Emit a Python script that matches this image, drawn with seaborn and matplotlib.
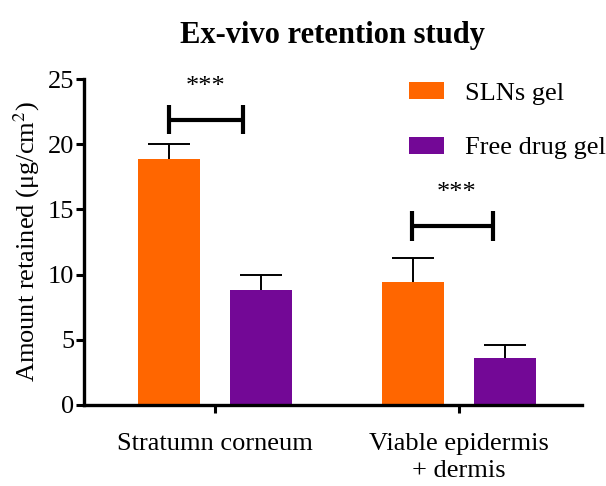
import matplotlib
matplotlib.use("Agg")
import matplotlib.pyplot as plt
import seaborn as sns
import pandas as pd

# Data
regions = ["Stratumn corneum", "Viable epidermis\n+ dermis"]
formulations = ["SLNs gel", "Free drug gel"]
sln_mean = [18.85, 9.4]
sln_err = [1.2, 1.9]
free_mean = [8.85, 3.6]
free_err = [1.1, 1.0]
colors = ["#FF6600", "#730896"]
sig_labels = ["***", "***"]

df = pd.DataFrame({
    "region": regions * 2,
    "formulation": [formulations[0]] * 2 + [formulations[1]] * 2,
    "amount": sln_mean + free_mean,
    "err": sln_err + free_err,
})

sns.set_theme(style="ticks")
plt.rcParams["font.family"] = ["Liberation Serif", "DejaVu Serif"]
plt.rcParams["mathtext.fontset"] = "stix"
for k in ["text.color", "axes.labelcolor", "xtick.color", "ytick.color"]:
    plt.rcParams[k] = "black"

fig = plt.figure(figsize=(6.06, 4.86), dpi=100)
ax = fig.add_axes([0.1386, 0.1667, 0.8214, 0.6707])

sns.barplot(data=df, x="region", y="amount", hue="formulation",
            palette=colors, width=0.756, gap=0.333, errorbar=None,
            saturation=1, ax=ax, linewidth=0, zorder=2)

# Error bars (mean ± SEM); the lower half sits behind each bar
for cont, f in zip(ax.containers, formulations):
    sub = df[df["formulation"] == f]
    xs = [p.get_x() + p.get_width() / 2 for p in cont.patches]
    ax.errorbar(xs, sub["amount"].values, yerr=sub["err"].values,
                fmt="none", ecolor="black", elinewidth=1.4,
                capsize=15, capthick=1.4, zorder=1)

# Significance brackets
brackets = [(-0.189, 0.116, 21.86, 20.8, 23.0, -0.037, 24.35),
            (0.806, 1.141, 13.75, 12.6, 14.85, 0.992, 16.25)]
for (x0, x1, yh, ylo, yhi, tx, ty), lab in zip(brackets, sig_labels):
    ax.plot([x0, x1], [yh, yh], color="black", lw=3, solid_capstyle="butt")
    ax.plot([x0, x0], [ylo, yhi], color="black", lw=3, solid_capstyle="butt")
    ax.plot([x1, x1], [ylo, yhi], color="black", lw=3, solid_capstyle="butt")
    ax.text(tx, ty, lab, ha="center", va="center", fontsize=19)

ax.set_xlim(-0.537, 1.503)
ax.set_ylim(0, 25)
ax.set_yticks([0, 5, 10, 15, 20, 25])
ax.set_xlabel("")
ax.set_ylabel("Amount retained (μg/cm$^2$)", fontsize=19, labelpad=4)
ax.tick_params(axis="both", labelsize=19, width=2.2, length=6, color="black")
ax.tick_params(axis="y", pad=1)
ax.tick_params(axis="x", pad=14)
for lbl in ax.get_xticklabels():
    lbl.set_linespacing(1.3)
for s in ["left", "bottom"]:
    ax.spines[s].set_linewidth(2.4)
    ax.spines[s].set_color("black")
sns.despine(ax=ax)

ax.set_title("Ex-vivo retention study", fontsize=22, fontweight="bold", pad=26)

leg = ax.legend(loc="upper left", bbox_to_anchor=(0.632, 1.022), frameon=False,
                fontsize=19, handlelength=1.33, handleheight=0.6,
                labelspacing=1.2, handletextpad=0.8, borderaxespad=0)

fig.savefig("out.png", dpi=100)
